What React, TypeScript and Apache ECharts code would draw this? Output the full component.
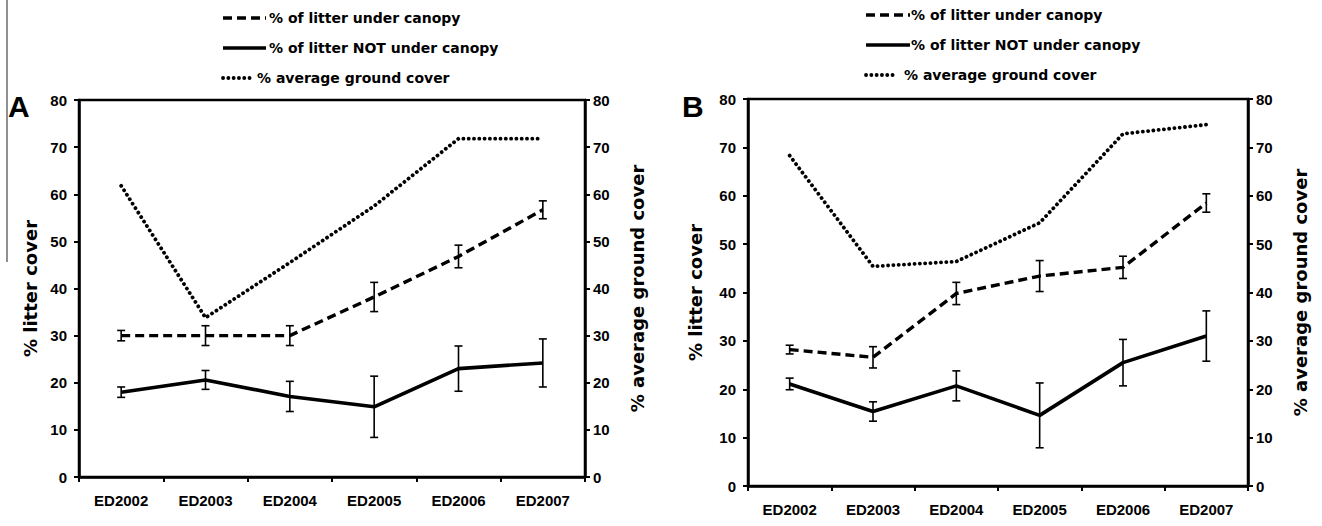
import React, { useEffect, useRef } from 'react';
import * as echarts from 'echarts';

const categories = ['ED2002', 'ED2003', 'ED2004', 'ED2005', 'ED2006', 'ED2007'];

// Panel A
const aUnderMean = [30, 30, 30, 38.2, 46.8, 56.7];
const aUnderErr = [1.1, 2.1, 2.1, 3.1, 2.4, 1.9];
const aNotMean = [18, 20.6, 17.1, 14.9, 23, 24.2];
const aNotErr = [1.1, 2, 3.2, 6.5, 4.8, 5.1];
const aGround = [61.8, 33.8, 45.5, 57.5, 71.8, 71.8];

// Panel B
const bUnderMean = [28.2, 26.6, 39.8, 43.4, 45.2, 58.5];
const bUnderErr = [0.9, 2.2, 2.3, 3.2, 2.3, 1.9];
const bNotMean = [21.1, 15.4, 20.7, 14.6, 25.5, 31.0];
const bNotErr = [1.2, 2.0, 3.1, 6.7, 4.8, 5.2];
const bGround = [68.3, 45.4, 46.4, 54.4, 72.8, 74.7];

const legendLabels = ['% of litter under canopy', '% of litter NOT under canopy', '% average ground cover'];
const leftTitle = '% litter cover';
const rightTitle = '% average ground cover';
const panelLabels = ['A', 'B'];

const FONT = "'Liberation Sans', Arial, sans-serif";
const WIDE = "'DejaVu Sans', sans-serif";

const DASH = [9, 5];
const DOT = [0.1, 5.2];

function errRender(params: any, api: any) {
  const i = api.value(0);
  const m = api.value(1);
  const e = api.value(2);
  const top = api.coord([i, m + e]);
  const bot = api.coord([i, m - e]);
  const hw = 4;
  const style = { stroke: '#000', lineWidth: 1.6 };
  return {
    type: 'group',
    children: [
      { type: 'line', shape: { x1: top[0], y1: top[1], x2: bot[0], y2: bot[1] }, style },
      { type: 'line', shape: { x1: top[0] - hw, y1: top[1], x2: top[0] + hw, y2: top[1] }, style },
      { type: 'line', shape: { x1: bot[0] - hw, y1: bot[1], x2: bot[0] + hw, y2: bot[1] }, style },
    ],
  };
}

function makeX(gridIndex: number) {
  return {
    type: 'category',
    gridIndex,
    data: categories,
    boundaryGap: true,
    axisLine: { show: true, lineStyle: { color: '#000', width: 2.5 } },
    axisTick: { show: true, inside: false, length: 5, alignWithLabel: false, lineStyle: { color: '#000', width: 2 } },
    axisLabel: { margin: 16, color: '#000', fontFamily: FONT, fontWeight: 'bold', fontSize: 15 },
    splitLine: { show: false },
  };
}

function makeY(gridIndex: number, position: 'left' | 'right', name: string, gap: number, margin: number) {
  return {
    type: 'value',
    gridIndex,
    position,
    min: 0,
    max: 80,
    interval: 10,
    name,
    nameLocation: 'middle',
    nameRotate: 90,
    nameGap: gap,
    nameTextStyle: { color: '#000', fontFamily: WIDE, fontWeight: 'bold', fontSize: 18 },
    axisLine: { show: true, onZero: false, lineStyle: { color: '#000', width: 2.5 } },
    axisTick: { show: true, inside: false, length: 5, lineStyle: { color: '#000', width: 2 } },
    axisLabel: { margin, color: '#000', fontFamily: FONT, fontWeight: 'bold', fontSize: 15 },
    splitLine: { show: false },
  };
}

function panelSeries(xi: number, yl: number, yr: number, under: number[], uErr: number[], not: number[], nErr: number[], ground: number[]) {
  return [
    {
      type: 'line', xAxisIndex: xi, yAxisIndex: yr, data: ground, symbol: 'none',
      lineStyle: { color: '#000', width: 3.8, type: DOT, cap: 'round' }, z: 2,
    },
    {
      type: 'line', xAxisIndex: xi, yAxisIndex: yl, data: under, symbol: 'none',
      lineStyle: { color: '#000', width: 3.4, type: DASH }, z: 2,
    },
    {
      type: 'line', xAxisIndex: xi, yAxisIndex: yl, data: not, symbol: 'none',
      lineStyle: { color: '#000', width: 3.6, type: 'solid' }, z: 2,
    },
    {
      type: 'custom', xAxisIndex: xi, yAxisIndex: yl, renderItem: errRender, z: 3,
      encode: { x: 0, y: 1 },
      data: under.map((v, i) => [i, v, uErr[i]]),
    },
    {
      type: 'custom', xAxisIndex: xi, yAxisIndex: yl, renderItem: errRender, z: 3,
      encode: { x: 0, y: 1 },
      data: not.map((v, i) => [i, v, nErr[i]]),
    },
  ];
}

function legendGraphics(x0: number, x1: number, dotsEnd: number, textX: number, textX3: number, ys: number[]) {
  const items: any[] = [];
  const styles = [
    { stroke: '#000', lineWidth: 3.4, lineDash: DASH },
    { stroke: '#000', lineWidth: 3.6 },
    { stroke: '#000', lineWidth: 3.8, lineDash: DOT, lineCap: 'round' },
  ];
  legendLabels.forEach((label, i) => {
    const end = i === 2 ? dotsEnd : x1;
    items.push({ type: 'line', shape: { x1: x0, y1: ys[i], x2: end, y2: ys[i] }, style: styles[i] });
    items.push({
      type: 'text', x: i === 2 ? textX3 : textX, y: ys[i],
      style: { text: label, fill: '#000', fontFamily: WIDE, fontWeight: 'bold', fontSize: 14, align: 'left', verticalAlign: 'middle' },
    });
  });
  return items;
}

export default function App() {
  const ref = useRef<HTMLDivElement>(null);
  useEffect(() => {
    if (!ref.current) return;
    const chart = echarts.init(ref.current, null, { renderer: 'svg' });
    const option: any = {
      animation: false,
      backgroundColor: '#fff',
      grid: [
        { left: 79, top: 100, width: 506, height: 377, show: true, borderColor: '#000', borderWidth: 2.5, containLabel: false, outerBoundsMode: 'none' },
        { left: 748, top: 99, width: 500, height: 387, show: true, borderColor: '#000', borderWidth: 2.5, containLabel: false, outerBoundsMode: 'none' },
      ],
      xAxis: [makeX(0), makeX(1)],
      yAxis: [
        makeY(0, 'left', leftTitle, 40, 12),
        makeY(0, 'right', rightTitle, 43, 8),
        makeY(1, 'left', leftTitle, 44, 12),
        makeY(1, 'right', rightTitle, 43, 8),
      ],
      series: [
        ...panelSeries(0, 0, 1, aUnderMean, aUnderErr, aNotMean, aNotErr, aGround),
        ...panelSeries(1, 2, 3, bUnderMean, bUnderErr, bNotMean, bNotErr, bGround),
      ],
      graphic: [
        { type: 'line', shape: { x1: 7, y1: 0, x2: 7, y2: 262 }, style: { stroke: '#222', lineWidth: 1 } },
        { type: 'text', x: 8, y: 106, style: { text: panelLabels[0], fill: '#000', fontFamily: FONT, fontWeight: 'bold', fontSize: 30, align: 'left', verticalAlign: 'middle' } },
        { type: 'text', x: 682, y: 106, style: { text: panelLabels[1], fill: '#000', fontFamily: FONT, fontWeight: 'bold', fontSize: 30, align: 'left', verticalAlign: 'middle' } },
        ...legendGraphics(223, 266, 252, 269, 257, [18, 48, 78]),
        ...legendGraphics(866, 910, 897, 911, 904, [15, 45, 75]),
      ],
    };
    chart.setOption(option);
    return () => chart.dispose();
  }, []);
  return (
    <div
      ref={ref}
      style={{ position: 'fixed', left: 0, top: 0, width: 1322, height: 526, background: '#fff' }}
    />
  );
}
